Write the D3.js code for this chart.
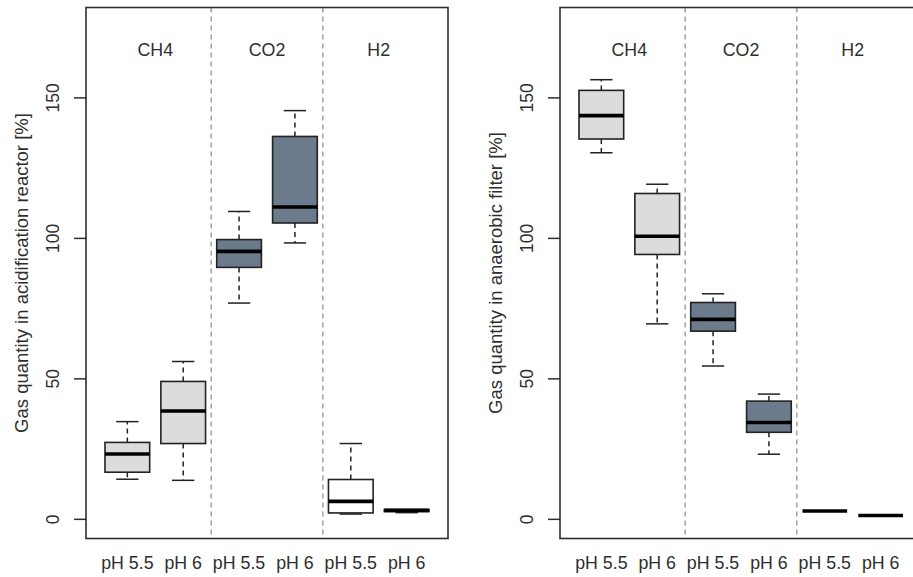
<!DOCTYPE html>
<html>
<head>
<meta charset="utf-8">
<script src="https://cdn.jsdelivr.net/npm/d3@7"></script>
<style>
  html, body { margin: 0; padding: 0; background: #fff; }
  svg { display: block; font-family: "Liberation Sans", Arial, sans-serif; }
</style>
</head>
<body>
<svg id="chart" width="913" height="577"></svg>
<script>
// Category labels
const phLabels = ["pH 5.5", "pH 6", "pH 5.5", "pH 6", "pH 5.5", "pH 6"];
const gasLabels = ["CH4", "CO2", "H2"];
const yTicks = [0, 50, 100, 150];
const boxFills = ["#dcdcdc", "#dcdcdc", "#6c7b8b", "#6c7b8b", "#ffffff", "#ffffff"];

// Acidification reactor: whisker ends, quartiles and medians [%]
const acidLow = [14.1, 13.7, 76.8, 98.2, 1.7, 2.2];
const acidQ1 = [16.6, 26.8, 89.5, 105.3, 2.1, 2.6];
const acidMedian = [23.1, 38.4, 95.2, 111.0, 6.2, 3.0];
const acidQ3 = [27.2, 48.9, 99.4, 136.1, 14.0, 3.3];
const acidHigh = [34.6, 56.0, 109.4, 145.3, 26.8, 3.3];

// Anaerobic filter: whisker ends, quartiles and medians [%]
const filterLow = [130.3, 69.4, 54.4, 23.0, 2.8, 1.2];
const filterQ1 = [135.2, 94.1, 66.8, 30.8, 2.8, 1.2];
const filterMedian = [143.5, 100.6, 71.0, 34.3, 2.8, 1.2];
const filterQ3 = [152.5, 115.8, 77.0, 41.9, 2.8, 1.2];
const filterHigh = [156.3, 119.1, 80.1, 44.4, 2.8, 1.2];

const panels = [
  { left: 86, title: "Gas quantity in acidification reactor [%]",
    low: acidLow, q1: acidQ1, med: acidMedian, q3: acidQ3, high: acidHigh },
  { left: 560, title: "Gas quantity in anaerobic filter [%]",
    low: filterLow, q1: filterQ1, med: filterMedian, q3: filterQ3, high: filterHigh }
];

const svg = d3.select("#chart");
const plotTop = 7.5, plotBottom = 538.5, panelWidth = 362;
const ink = "#2e2e2e";

// y range 0..175 padded by 4% on each side
const y = d3.scaleLinear().domain([-7, 182]).range([plotBottom, plotTop]);

panels.forEach(p => {
  // boxes sit at 1..6, range 0.5..6.5 padded by 4%
  const x = d3.scaleLinear().domain([0.26, 6.74]).range([p.left, p.left + panelWidth]);
  const unit = x(1) - x(0);
  const boxW = 0.8 * unit;
  const stapleW = boxW / 2;
  const g = svg.append("g");

  // gas group separators
  g.selectAll("line.sep").data([2.5, 4.5]).enter().append("line")
    .attr("x1", d => x(d)).attr("x2", d => x(d))
    .attr("y1", plotTop).attr("y2", plotBottom)
    .attr("stroke", "#8a8a8a").attr("stroke-width", 1.2)
    .attr("stroke-dasharray", "5,4");

  const idx = d3.range(phLabels.length);
  const items = g.selectAll("g.box").data(idx).enter().append("g");

  // whiskers
  items.append("line")
    .attr("x1", i => x(i + 1)).attr("x2", i => x(i + 1))
    .attr("y1", i => y(p.q3[i])).attr("y2", i => y(p.high[i]))
    .attr("stroke", "#222").attr("stroke-width", 1.5).attr("stroke-dasharray", "5,4");
  items.append("line")
    .attr("x1", i => x(i + 1)).attr("x2", i => x(i + 1))
    .attr("y1", i => y(p.q1[i])).attr("y2", i => y(p.low[i]))
    .attr("stroke", "#222").attr("stroke-width", 1.5).attr("stroke-dasharray", "5,4");
  // staples
  items.filter(i => p.high[i] > p.q3[i]).append("line")
    .attr("x1", i => x(i + 1) - stapleW / 2).attr("x2", i => x(i + 1) + stapleW / 2)
    .attr("y1", i => y(p.high[i])).attr("y2", i => y(p.high[i]))
    .attr("stroke", "#222").attr("stroke-width", 1.5);
  items.filter(i => p.low[i] < p.q1[i]).append("line")
    .attr("x1", i => x(i + 1) - stapleW / 2).attr("x2", i => x(i + 1) + stapleW / 2)
    .attr("y1", i => y(p.low[i])).attr("y2", i => y(p.low[i]))
    .attr("stroke", "#222").attr("stroke-width", 1.5);

  // boxes
  items.filter(i => p.q3[i] > p.q1[i]).append("rect")
    .attr("x", i => x(i + 1) - boxW / 2).attr("width", boxW)
    .attr("y", i => y(p.q3[i])).attr("height", i => y(p.q1[i]) - y(p.q3[i]))
    .attr("fill", i => boxFills[i]).attr("stroke", "#222").attr("stroke-width", 1.6);

  // medians
  items.append("line")
    .attr("x1", i => x(i + 1) - boxW / 2).attr("x2", i => x(i + 1) + boxW / 2)
    .attr("y1", i => y(p.med[i])).attr("y2", i => y(p.med[i]))
    .attr("stroke", "#000").attr("stroke-width", 3.6);

  // plot frame
  g.append("rect")
    .attr("x", p.left).attr("y", plotTop)
    .attr("width", panelWidth).attr("height", plotBottom - plotTop)
    .attr("fill", "none").attr("stroke", ink).attr("stroke-width", 1.6);

  // y axis with rotated tick labels
  const ax = g.append("g").attr("transform", `translate(${p.left},0)`)
    .call(d3.axisLeft(y).tickValues(yTicks).tickSize(12).tickFormat(d3.format("d")));
  ax.select(".domain").remove();
  ax.selectAll(".tick line").attr("stroke", ink).attr("stroke-width", 1.5);
  ax.selectAll(".tick text")
    .attr("transform", "rotate(-90)")
    .attr("x", 0).attr("y", -33).attr("dy", null)
    .attr("text-anchor", "middle").attr("dominant-baseline", "central")
    .attr("fill", ink).style("font-size", "17.5px")
    .style("font-family", "'Liberation Sans', Arial, sans-serif");

  // x category labels
  g.selectAll("text.ph").data(idx).enter().append("text")
    .attr("x", i => x(i + 1)).attr("y", 569)
    .attr("text-anchor", "middle").attr("fill", ink)
    .style("font-size", "17.8px")
    .text(i => phLabels[i]);

  // gas names
  g.selectAll("text.gas").data(gasLabels).enter().append("text")
    .attr("x", (d, k) => x(1.5 + 2 * k)).attr("y", 56)
    .attr("text-anchor", "middle").attr("fill", ink)
    .style("font-size", "17.8px")
    .text(d => d);

  // y axis title
  g.append("text")
    .attr("transform", `translate(${p.left - 65},${(plotTop + plotBottom) / 2}) rotate(-90)`)
    .attr("text-anchor", "middle").attr("dominant-baseline", "central")
    .attr("fill", ink).style("font-size", "18.5px")
    .text(p.title);
});
</script>
</body>
</html>
